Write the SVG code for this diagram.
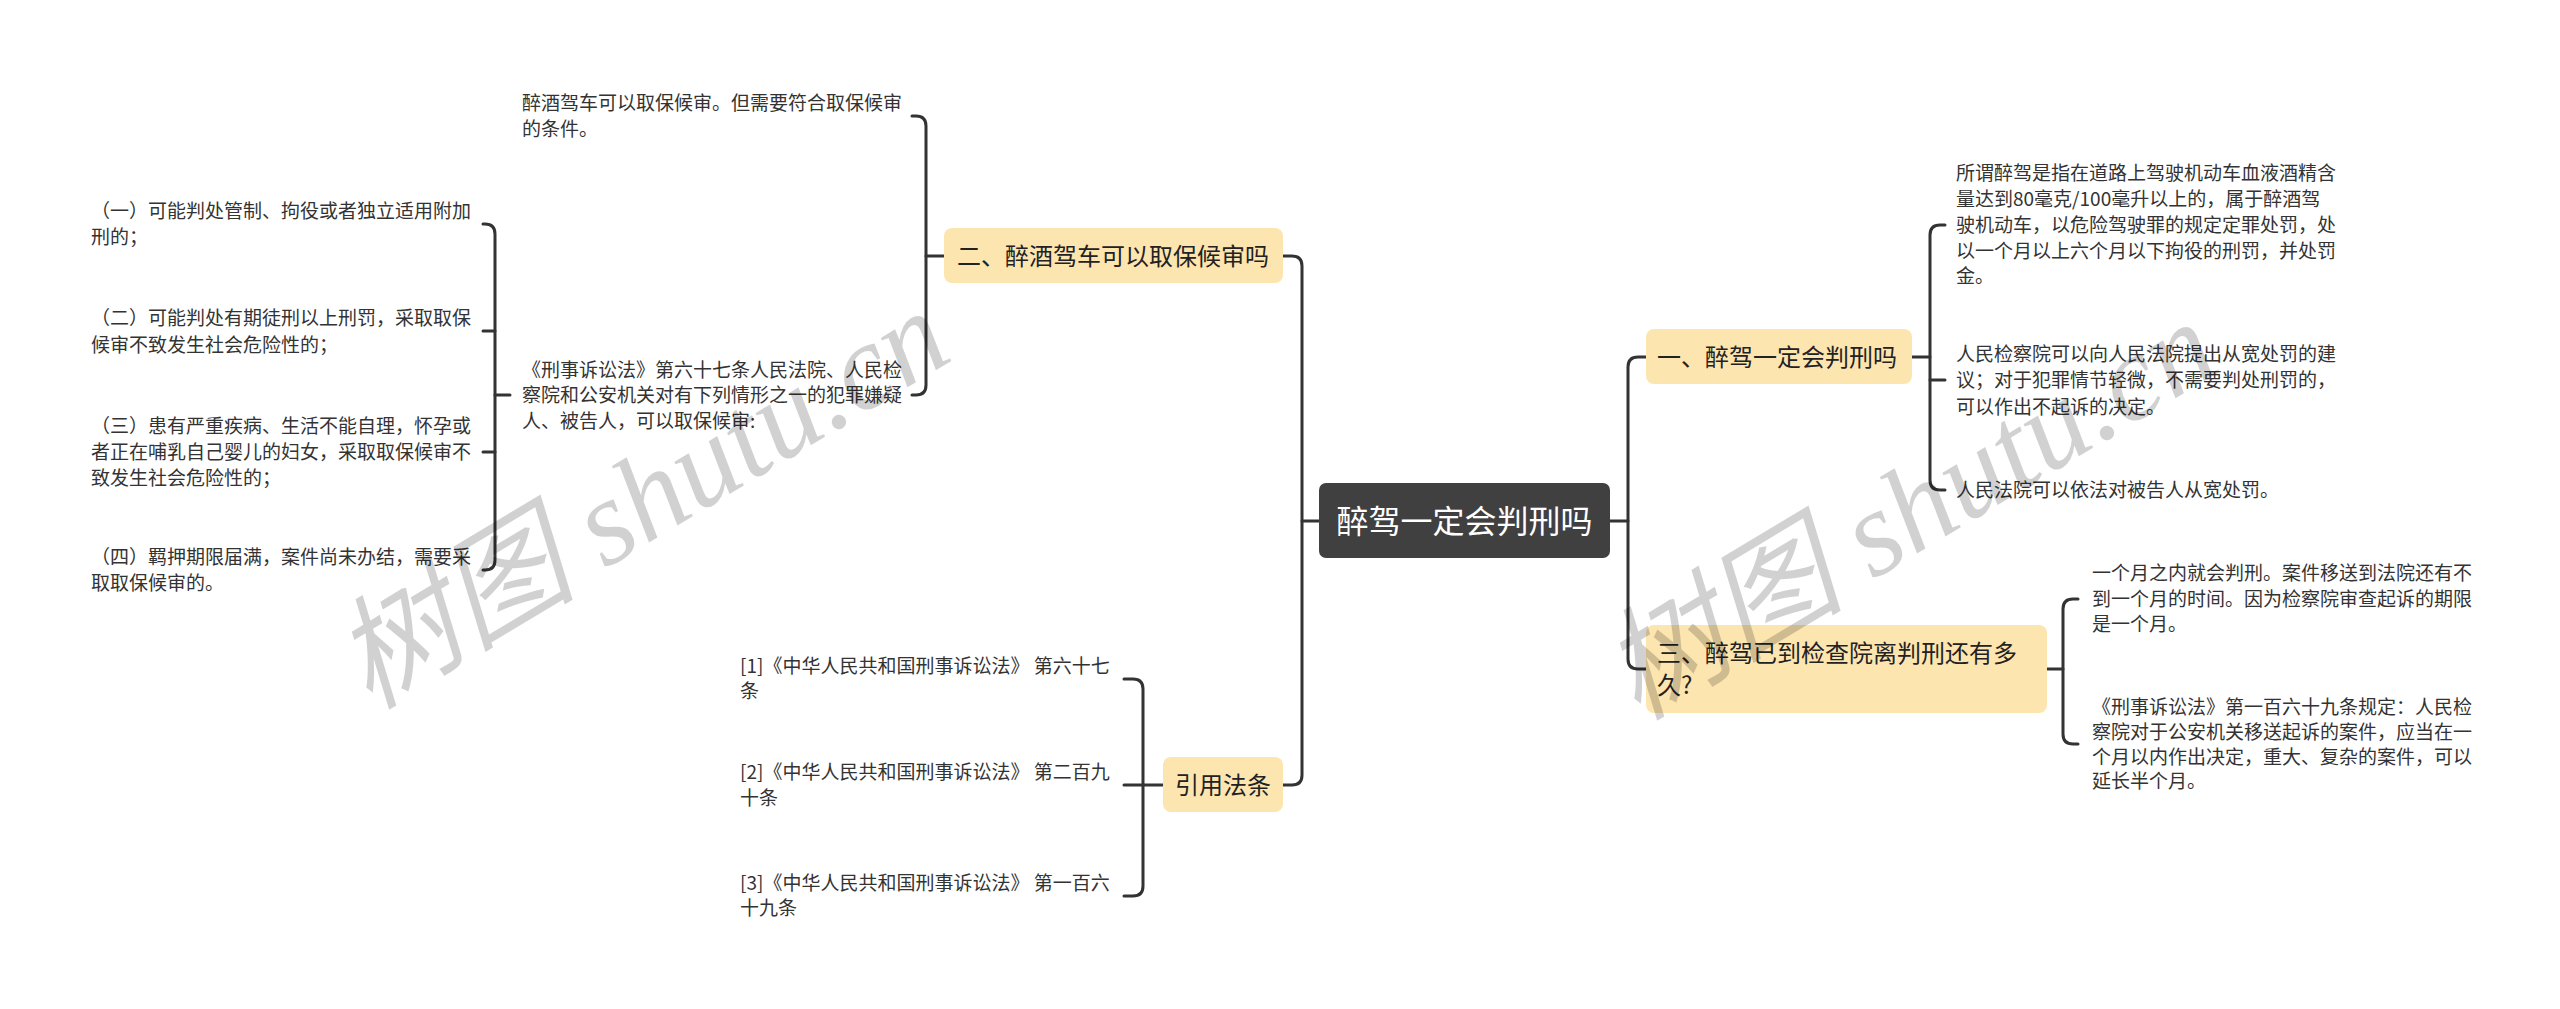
<svg xmlns="http://www.w3.org/2000/svg" width="2560" height="1009" viewBox="0 0 2560 1009">
<style>
.bg{fill:#ffffff}
.root{fill:#404040}
.l1{fill:#fde5b0}
.rt{font-family:"Noto Sans CJK SC","Noto Sans",sans-serif;font-size:32px;fill:#ffffff}
.t1{font-family:"Noto Sans CJK SC","Noto Sans",sans-serif;font-size:24px;fill:#222222}
.lf{font-family:"Noto Sans CJK SC","Noto Sans",sans-serif;font-size:19px;fill:#333333}
.c{fill:none;stroke:#333333;stroke-width:3;stroke-linecap:round;stroke-linejoin:round}
.wm{font-family:"Liberation Serif","Noto Sans CJK SC",serif;font-style:italic;font-size:122px;fill:#000000;fill-opacity:0.18}
</style>
<rect class="bg" x="0" y="0" width="2560" height="1009"/>

<g id="connectors">
<path class="c" d="M1283 256 H1292 Q1302 256 1302 266 V775 Q1302 785 1292 785 H1283"/>
<path class="c" d="M1319 521 H1302"/>
<path class="c" d="M1646 357 H1638 Q1628 357 1628 367 V659 Q1628 669 1638 669 H1646"/>
<path class="c" d="M1610 521 H1628"/>
<path class="c" d="M912 116 H916 Q926 116 926 126 V385 Q926 395 916 395 H912"/>
<path class="c" d="M944 256 H926"/>
<path class="c" d="M483 224 H485 Q495 224 495 234 V560 Q495 570 485 570 H483"/>
<path class="c" d="M483 331 H495"/>
<path class="c" d="M483 452 H495"/>
<path class="c" d="M510 395 H495"/>
<path class="c" d="M1945 225 H1940 Q1930 225 1930 235 V480 Q1930 490 1940 490 H1945"/>
<path class="c" d="M1912 357 H1930"/>
<path class="c" d="M1930 380 H1945"/>
<path class="c" d="M2078 599 H2073 Q2063 599 2063 609 V734 Q2063 744 2073 744 H2078"/>
<path class="c" d="M2047 669 H2063"/>
<path class="c" d="M1124 679 H1133 Q1143 679 1143 689 V886 Q1143 896 1133 896 H1124"/>
<path class="c" d="M1124 785 H1143"/>
<path class="c" d="M1163 785 H1143"/>
</g>

<g id="root">
<rect class="root" x="1319" y="483" width="291" height="75" rx="7"/>
<text class="rt" x="1464.5" y="533" text-anchor="middle">醉驾一定会判刑吗</text>
</g>

<g id="n-er">
<rect class="l1" x="944" y="228" width="339" height="55" rx="8"/>
<text class="t1" x="957" y="265">二、醉酒驾车可以取保候审吗</text>
</g>

<g id="n-yinyong">
<rect class="l1" x="1163" y="757" width="120" height="55" rx="8"/>
<text class="t1" x="1175" y="794">引用法条</text>
</g>

<g id="n-yi">
<rect class="l1" x="1646" y="329" width="266" height="55" rx="8"/>
<text class="t1" x="1657" y="366">一、醉驾一定会判刑吗</text>
</g>

<g id="n-san">
<rect class="l1" x="1646" y="625" width="401" height="88" rx="8"/>
<text class="t1" x="1657" y="662">三、醉驾已到检查院离判刑还有多</text>
<text class="t1" x="1657" y="694">久?</text>
</g>

<g id="leaf-er-1">
<text class="lf" x="522" y="110">醉酒驾车可以取保候审。但需要符合取保候审</text>
<text class="lf" x="522" y="136">的条件。</text>
</g>

<g id="leaf-er-2">
<text class="lf" x="522" y="377">《刑事诉讼法》第六十七条人民法院、人民检</text>
<text class="lf" x="522" y="402">察院和公安机关对有下列情形之一的犯罪嫌疑</text>
<text class="lf" x="522" y="428">人、被告人，可以取保候审:</text>
</g>

<g id="leaf-c1">
<text class="lf" x="91" y="218">（一）可能判处管制、拘役或者独立适用附加</text>
<text class="lf" x="91" y="244">刑的；</text>
</g>
<g id="leaf-c2">
<text class="lf" x="91" y="325">（二）可能判处有期徒刑以上刑罚，采取取保</text>
<text class="lf" x="91" y="352">候审不致发生社会危险性的；</text>
</g>
<g id="leaf-c3">
<text class="lf" x="91" y="433">（三）患有严重疾病、生活不能自理，怀孕或</text>
<text class="lf" x="91" y="459">者正在哺乳自己婴儿的妇女，采取取保候审不</text>
<text class="lf" x="91" y="485">致发生社会危险性的；</text>
</g>
<g id="leaf-c4">
<text class="lf" x="91" y="564">（四）羁押期限届满，案件尚未办结，需要采</text>
<text class="lf" x="91" y="590">取取保候审的。</text>
</g>

<g id="leaf-yy-1">
<text class="lf" x="740" y="673">[1]《中华人民共和国刑事诉讼法》 第六十七</text>
<text class="lf" x="740" y="698">条</text>
</g>
<g id="leaf-yy-2">
<text class="lf" x="740" y="779">[2]《中华人民共和国刑事诉讼法》 第二百九</text>
<text class="lf" x="740" y="805">十条</text>
</g>
<g id="leaf-yy-3">
<text class="lf" x="740" y="890">[3]《中华人民共和国刑事诉讼法》 第一百六</text>
<text class="lf" x="740" y="915">十九条</text>
</g>

<g id="leaf-yi-1">
<text class="lf" x="1956" y="180">所谓醉驾是指在道路上驾驶机动车血液酒精含</text>
<text class="lf" x="1956" y="206">量达到80毫克/100毫升以上的，属于醉酒驾</text>
<text class="lf" x="1956" y="232">驶机动车，以危险驾驶罪的规定定罪处罚，处</text>
<text class="lf" x="1956" y="258">以一个月以上六个月以下拘役的刑罚，并处罚</text>
<text class="lf" x="1956" y="283">金。</text>
</g>
<g id="leaf-yi-2">
<text class="lf" x="1956" y="361">人民检察院可以向人民法院提出从宽处罚的建</text>
<text class="lf" x="1956" y="387">议；对于犯罪情节轻微，不需要判处刑罚的，</text>
<text class="lf" x="1956" y="414">可以作出不起诉的决定。</text>
</g>
<g id="leaf-yi-3">
<text class="lf" x="1956" y="497">人民法院可以依法对被告人从宽处罚。</text>
</g>

<g id="leaf-san-1">
<text class="lf" x="2092" y="580">一个月之内就会判刑。案件移送到法院还有不</text>
<text class="lf" x="2092" y="606">到一个月的时间。因为检察院审查起诉的期限</text>
<text class="lf" x="2092" y="631">是一个月。</text>
</g>
<g id="leaf-san-2">
<text class="lf" x="2092" y="714">《刑事诉讼法》第一百六十九条规定：人民检</text>
<text class="lf" x="2092" y="739">察院对于公安机关移送起诉的案件，应当在一</text>
<text class="lf" x="2092" y="764">个月以内作出决定，重大、复杂的案件，可以</text>
<text class="lf" x="2092" y="788">延长半个月。</text>
</g>

<g id="watermarks">
<text class="wm" x="642" y="540" text-anchor="middle" transform="rotate(-31 642 500)">树图 shutu.cn</text>
<text class="wm" x="1910" y="551" text-anchor="middle" transform="rotate(-31 1910 511)">树图 shutu.cn</text>
</g>
</svg>
